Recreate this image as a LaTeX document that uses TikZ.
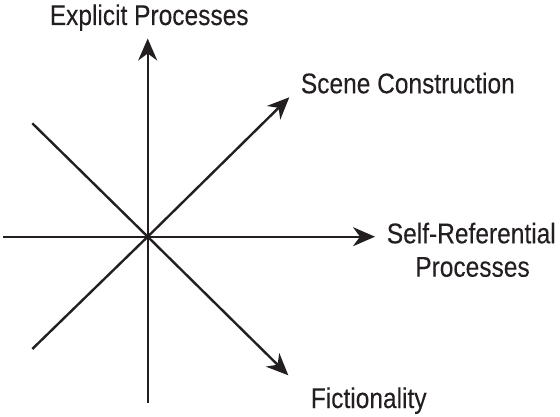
\documentclass[tikz,border=0pt]{standalone}
\usepackage{fontspec}
\setmainfont[FakeStretch=0.86,FakeBold=0.12]{Liberation Sans}
\usetikzlibrary{arrows.meta}
\definecolor{ink}{HTML}{231F20}
\begin{document}
\begin{tikzpicture}[x=1pt,y=-1pt,
  axis/.style={draw=ink, line width=2.4pt, line cap=butt},
  arr/.style={axis, -{Stealth[length=22pt,width=19pt,inset=7pt]}},
  lbl/.style={inner sep=0pt, anchor=base, font=\fontsize{28.5}{33}\selectfont, text=ink}]
\useasboundingbox (0,0) rectangle (560,417);
\coordinate (c) at (147.7,236.7);
\coordinate (top) at (147.7,38.5);
\coordinate (bot) at (147.7,403);
\coordinate (left) at (3.3,236.7);
\coordinate (right) at (375,236.7);
\coordinate (ul) at (32.3,123.3);
\coordinate (ur) at (289.3,97.3);
\coordinate (ll) at (32.3,349);
\coordinate (lr) at (288.3,375.3);
\draw[axis] (bot) -- (c);
\draw[arr] (c) -- (top);
\draw[axis] (left) -- (c);
\draw[arr] (c) -- (right);
\draw[axis] (ll) -- (c);
\draw[arr] (c) -- (ur);
\draw[axis] (ul) -- (c);
\draw[arr] (c) -- (lr);
\node[lbl] (ep) at (149.2,25) {Explicit Processes};
\node[lbl, anchor=base west] (sc) at (300.7,93.3) {Scene Construction};
\node[lbl] (sr) at (471.3,243.3) {Self-Referential};
\node[lbl] (pr) at (472.5,276.7) {Processes};
\node[lbl] (fi) at (368.7,408) {Fictionality};
\end{tikzpicture}
\end{document}
